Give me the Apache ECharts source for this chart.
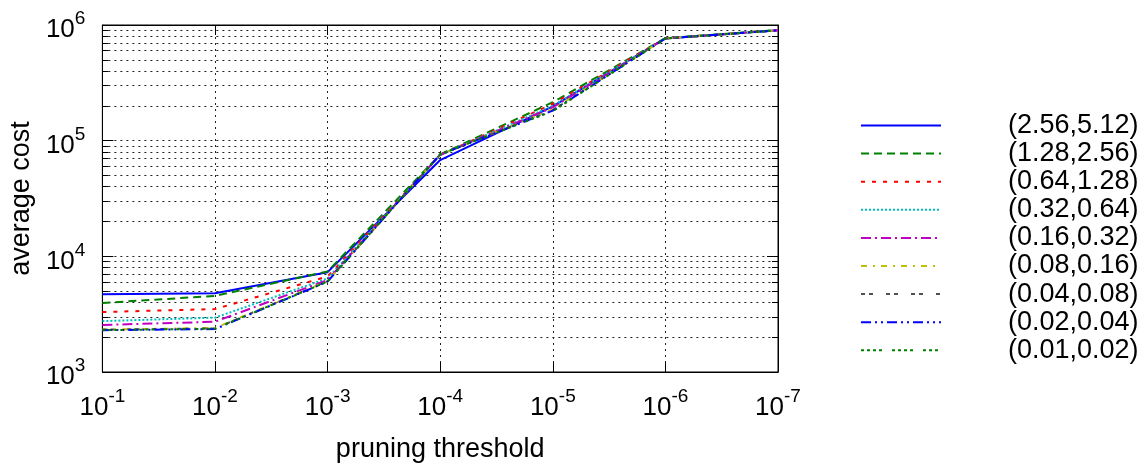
<!DOCTYPE html>
<html><head><meta charset="utf-8">
<script src="https://cdn.jsdelivr.net/npm/echarts@6/dist/echarts.min.js"></script>
<style>html,body{margin:0;padding:0;background:#fff}#c{width:1147px;height:468px}</style>
</head><body><div id="c"></div>
<script>
const xValues = [1e-1, 1e-2, 1e-3, 1e-4, 1e-5, 1e-6, 1e-7];
const xTicks = [1e-7, 1e-6, 1e-5, 1e-4, 1e-3, 1e-2, 1e-1];
const yMajorTicks = [1e3, 1e4, 1e5, 1e6];
const yMinorTicks = [2e3,3e3,4e3,5e3,6e3,7e3,8e3,9e3, 2e4,3e4,4e4,5e4,6e4,7e4,8e4,9e4, 2e5,3e5,4e5,5e5,6e5,7e5,8e5,9e5];
const seriesNames = ['(2.56,5.12)','(1.28,2.56)','(0.64,1.28)','(0.32,0.64)','(0.16,0.32)','(0.08,0.16)','(0.04,0.08)','(0.02,0.04)','(0.01,0.02)'];
const s256 = [4700, 4800, 7300, 68000, 198000, 765000, 900000];
const s128 = [3950, 4550, 7400, 76000, 215000, 770000, 905000];
const s064 = [3300, 3500, 6700, 75000, 208000, 765000, 900000];
const s032 = [2750, 2950, 6450, 75000, 200000, 765000, 900000];
const s016 = [2550, 2720, 6250, 75500, 194000, 765000, 900000];
const s008 = [2330, 2400, 6100, 76000, 186000, 765000, 900000];
const s004 = [2330, 2380, 6100, 76000, 184000, 765000, 900000];
const s002 = [2300, 2350, 6050, 76000, 182000, 765000, 900000];
const s001 = [2300, 2370, 6050, 76500, 180000, 765000, 900000];
const seriesValues = [s256, s128, s064, s032, s016, s008, s004, s002, s001];

const styles = [
  {color:'#0000ff', type:'solid'},
  {color:'#008000', type:[8,5]},
  {color:'#ff0000', type:[4,7]},
  {color:'#00c0c0', type:[2,2]},
  {color:'#c000c0', type:[10,4,2,4]},
  {color:'#c0c000', type:[6,6,2,6]},
  {color:'#505050', type:[4,4,4,13]},
  {color:'#0000ff', type:[10,4,2,4,2,4]},
  {color:'#008000', type:[3,3,3,3,3,3,3,10]}
];
const FONT = 'Liberation Sans';
const allY = yMajorTicks.concat(yMinorTicks).sort((a,b)=>a-b);
function supLabel(v){
  const e = Math.round(Math.log10(v));
  return '{b|10}{s|' + e + '}';
}
const rich = {
  b:{fontFamily:FONT,fontSize:26,color:'#000',padding:[10,0,0,0]},
  s:{fontFamily:FONT,fontSize:19,color:'#000',padding:[0,0,12,0]}
};
const yBase = {type:'log', logBase:10, min:1e3, max:1e6, gridIndex:0};
const xBase = {type:'log', logBase:10, min:1e-7, max:1e-1, inverse:true, gridIndex:0};
const option = {
  animation:false,
  backgroundColor:'#fff',
  grid:{left:99, right:369, top:25, bottom:86, show:true, borderColor:'#000', borderWidth:1},
  xAxis:[
    Object.assign({}, xBase, {position:'bottom',
      axisLine:{show:true,lineStyle:{color:'#000',width:1}},
      axisTick:{show:true,inside:true,length:10,customValues:xTicks,lineStyle:{color:'#000'}},
      splitLine:{show:true,lineStyle:{color:'#222',type:[2,4],width:1}},
      axisLabel:{show:true,customValues:xTicks,formatter:supLabel,rich:rich,margin:13},
      name:'pruning threshold', nameLocation:'middle', nameGap:64,
      nameTextStyle:{fontFamily:FONT,fontSize:27,color:'#000'}}),
    Object.assign({}, xBase, {position:'top',
      axisLine:{show:true,lineStyle:{color:'#000',width:1}},
      axisTick:{show:true,inside:true,length:10,customValues:xTicks,lineStyle:{color:'#000'}},
      splitLine:{show:false}, axisLabel:{show:false}})
  ],
  yAxis:[
    Object.assign({}, yBase, {position:'left',
      axisLine:{show:true,lineStyle:{color:'#000',width:1}},
      axisTick:{show:true,inside:true,length:11,customValues:yMajorTicks,lineStyle:{color:'#000'}},
      splitLine:{show:false},
      axisLabel:{show:true,customValues:yMajorTicks,formatter:supLabel,rich:rich,margin:17},
      name:'average cost', nameLocation:'middle', nameGap:66, nameRotate:90,
      nameTextStyle:{fontFamily:FONT,fontSize:27,color:'#000'}}),
    Object.assign({}, yBase, {position:'left',
      axisLine:{show:false},
      axisTick:{show:true,inside:true,length:6,customValues:allY,lineStyle:{color:'#000'}},
      splitLine:{show:true,lineStyle:{color:'#222',type:[2,4],width:1}},
      axisLabel:{show:false}}),
    Object.assign({}, yBase, {position:'right',
      axisLine:{show:true,lineStyle:{color:'#000',width:1}},
      axisTick:{show:true,inside:true,length:11,customValues:yMajorTicks,lineStyle:{color:'#000'}},
      splitLine:{show:false}, axisLabel:{show:false}}),
    Object.assign({}, yBase, {position:'right',
      axisLine:{show:false},
      axisTick:{show:true,inside:true,length:6,customValues:allY,lineStyle:{color:'#000'}},
      splitLine:{show:false}, axisLabel:{show:false}})
  ],
  legend:{
    orient:'vertical', left:855, top:107, itemWidth:80, itemHeight:28, itemGap:1.1,
    data:seriesNames,
    itemStyle:{opacity:0, borderWidth:0},
    formatter:function(n){return '{t|' + n + '}';},
    textStyle:{rich:{t:{fontFamily:FONT,fontSize:27,color:'#000',padding:[0,0,0,62],lineHeight:28}}}
  },
  series: seriesNames.map((n,i)=>({
    name:n, type:'line', symbol:'none', xAxisIndex:0, yAxisIndex:0,
    data: xValues.map((x,j)=>[x, seriesValues[i][j]]),
    lineStyle:{color:styles[i].color, type:styles[i].type, width:2},
    itemStyle:{color:styles[i].color}
  }))
};
const chart = echarts.init(document.getElementById('c'), null, {renderer:'canvas'});
chart.setOption(option);
</script>
</body></html>
